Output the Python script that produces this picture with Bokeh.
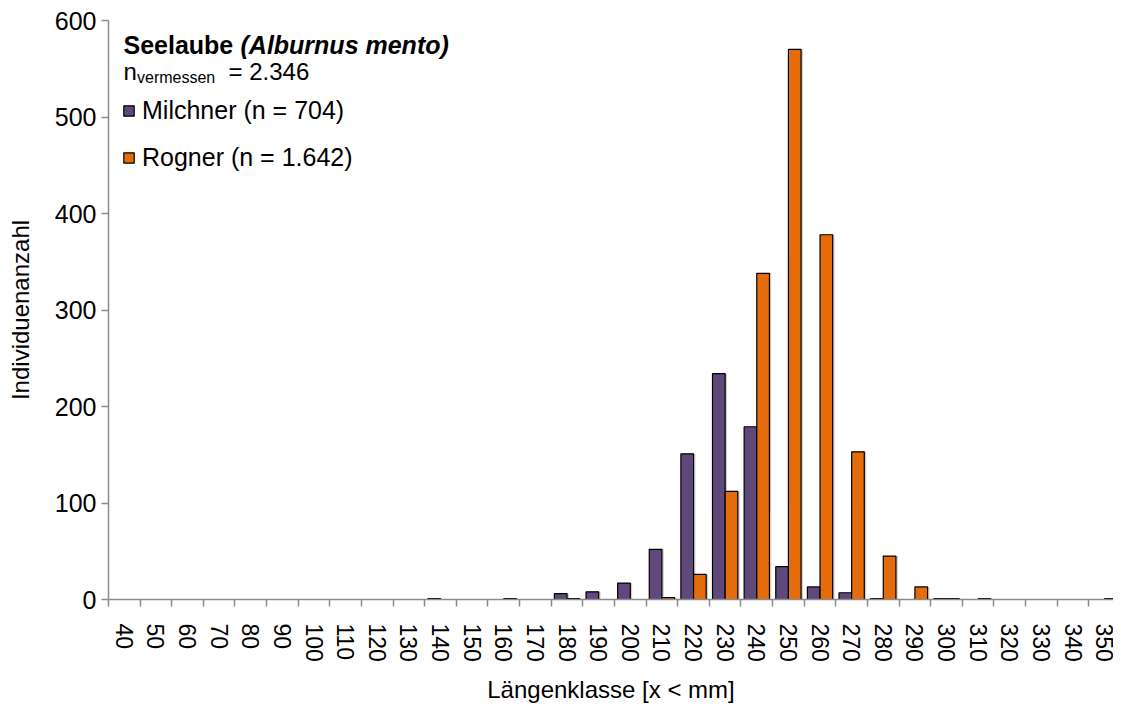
from bokeh.plotting import figure
from bokeh.models import (ColumnDataSource, Range1d, FixedTicker, Legend, LegendItem, Label)
from bokeh.embed import file_html
from bokeh.resources import INLINE

# ---- data ----
length_classes = [40, 50, 60, 70, 80, 90, 100, 110, 120, 130, 140, 150, 160, 170, 180, 190,
                  200, 210, 220, 230, 240, 250, 260, 270, 280, 290, 300, 310, 320, 330, 340, 350]
milchner = [0, 0, 0, 0, 0, 0, 0, 0, 0, 0, 1, 0, 0, 0, 6, 8,
            17, 52, 151, 234, 179, 34, 13, 7, 1, 0, 1, 0, 0, 0, 0, 0]
rogner = [0, 0, 0, 0, 0, 0, 0, 0, 0, 0, 0, 0, 1, 0, 1, 0,
          0, 2, 26, 112, 338, 570, 378, 153, 45, 13, 1, 1, 0, 0, 0, 1]
y_ticks = [0, 100, 200, 300, 400, 500, 600]
title_species = "Seelaube "
title_latin = "(Alburnus mento)"
n_total_label = "2.346"
label_milchner = "Milchner (n = 704)"
label_rogner = "Rogner (n = 1.642)"
x_title = "Längenklasse [x < mm]"
y_title = "Individuenanzahl"

PURPLE = "#5F497A"
ORANGE = "#E46C0A"
AXIS = "#8C8C8C"
SHADOW = "#CFCFCF"
FONT = "Liberation Sans"

idx = list(range(len(length_classes)))
src = ColumnDataSource(dict(
    x_m=[i - 0.2 for i in idx],
    x_r=[i + 0.2 for i in idx],
    x_ms=[i - 0.2 + 0.06 for i in idx],
    x_rs=[i + 0.2 + 0.06 for i in idx],
    milchner=milchner,
    rogner=rogner,
))

p = figure(width=1113, height=705, output_backend="svg", toolbar_location=None,
           x_range=Range1d(-0.5, len(length_classes) - 0.5 - 0.22), y_range=Range1d(0, 600),
           min_border_left=108, min_border_top=20, min_border_bottom=105, min_border_right=0)
p.outline_line_color = None
p.xgrid.visible = False
p.ygrid.visible = False
p.background_fill_color = "white"
p.border_fill_color = "white"

# soft shadow behind bars
p.vbar(x="x_ms", top="milchner", width=0.4, bottom=0, source=src,
       fill_color=SHADOW, line_color=None)
p.vbar(x="x_rs", top="rogner", width=0.4, bottom=0, source=src,
       fill_color=SHADOW, line_color=None)

r_m = p.vbar(x="x_m", top="milchner", width=0.4, bottom=0, source=src,
             fill_color=PURPLE, line_color="black", line_width=1.2)
r_r = p.vbar(x="x_r", top="rogner", width=0.4, bottom=0, source=src,
             fill_color=ORANGE, line_color="black", line_width=1.2)

# x axis
xa = p.xaxis[0]
xa.ticker = FixedTicker(ticks=idx, minor_ticks=[i - 0.5 for i in range(len(length_classes) + 1)])
xa.major_label_overrides = {i: str(v) for i, v in zip(idx, length_classes)}
xa.major_label_orientation = "vertical"
xa.major_tick_out = 0
xa.major_tick_in = 0
xa.minor_tick_out = 7
xa.minor_tick_in = 0
xa.minor_tick_line_color = AXIS
xa.minor_tick_line_width = 1.5
xa.axis_line_color = AXIS
xa.axis_line_width = 1.5
xa.major_label_text_font = FONT
xa.major_label_text_font_size = "23px"
xa.major_label_text_color = "black"
xa.major_label_standoff = 17
xa.axis_label = x_title
xa.axis_label_text_font = FONT
xa.axis_label_text_font_size = "24px"
xa.axis_label_text_font_style = "normal"
xa.axis_label_text_color = "black"
xa.axis_label_standoff = 11

# y axis
ya = p.yaxis[0]
ya.ticker = FixedTicker(ticks=y_ticks)
ya.major_tick_out = 7
ya.major_tick_in = 0
ya.minor_tick_out = 0
ya.minor_tick_in = 0
ya.major_tick_line_color = AXIS
ya.major_tick_line_width = 1.5
ya.axis_line_color = AXIS
ya.axis_line_width = 1.5
ya.major_label_text_font = FONT
ya.major_label_text_font_size = "25px"
ya.major_label_text_color = "black"
ya.major_label_standoff = 5
ya.axis_label = y_title
ya.axis_label_text_font = FONT
ya.axis_label_text_font_size = "24px"
ya.axis_label_text_font_style = "normal"
ya.axis_label_text_color = "black"
ya.axis_label_standoff = 18

# header texts
hdr = dict(x_units="screen", y_units="screen", text_font=FONT, text_color="black",
           text_baseline="alphabetic")
p.add_layout(Label(x=15, y=555, text=title_species, text_font_size="25px",
                   text_font_style="bold", **hdr))
p.add_layout(Label(x=132, y=555, text=title_latin, text_font_size="25px",
                   text_font_style="bold italic", **hdr))
p.add_layout(Label(x=15, y=528, text="n", text_font_size="24px", **hdr))
p.add_layout(Label(x=28.5, y=522, text="vermessen", text_font_size="16px", **hdr))
p.add_layout(Label(x=120, y=528, text="= " + n_total_label, text_font_size="24px", **hdr))

legend = Legend(items=[LegendItem(label=label_milchner, renderers=[r_m]),
                       LegendItem(label=label_rogner, renderers=[r_r])],
                location=(14, 427), orientation="vertical",
                label_text_font=FONT, label_text_font_size="25px", label_text_color="black",
                glyph_width=13, glyph_height=13, label_standoff=7, label_height=28,
                spacing=18, padding=0, margin=0,
                background_fill_alpha=0, border_line_alpha=0)
p.add_layout(legend)

open("out.html", "w").write(file_html(p, INLINE))
